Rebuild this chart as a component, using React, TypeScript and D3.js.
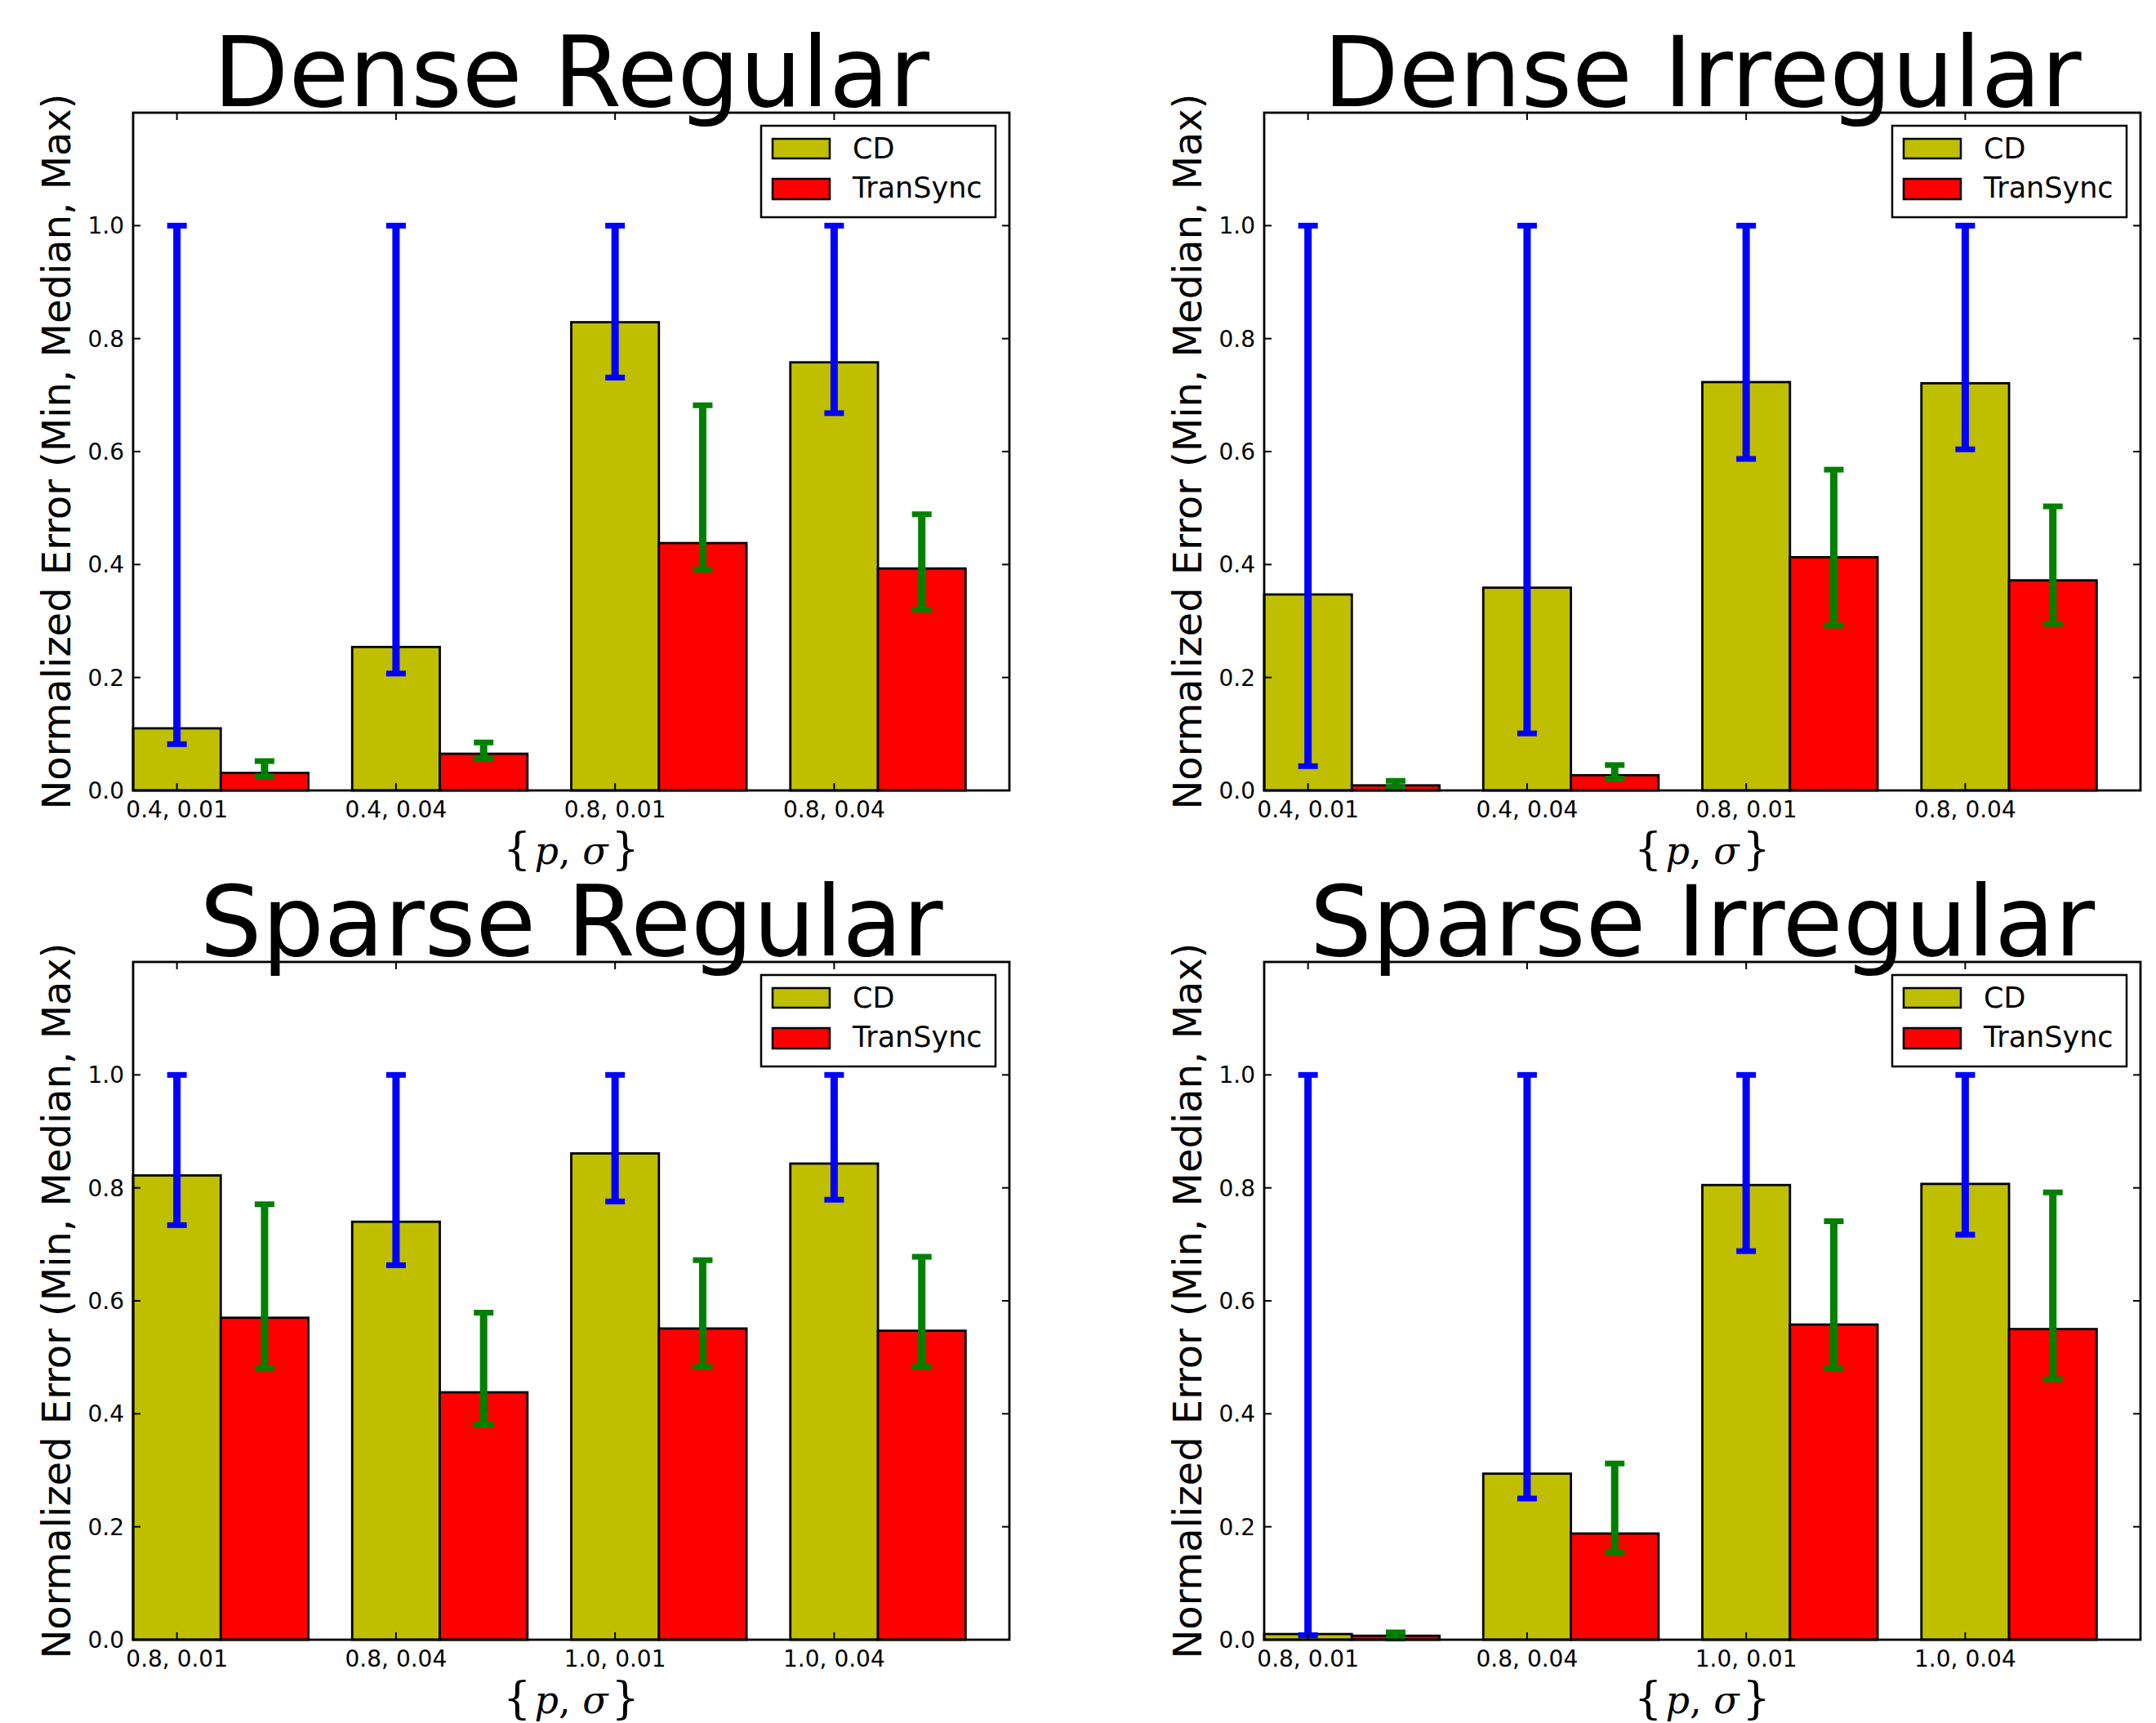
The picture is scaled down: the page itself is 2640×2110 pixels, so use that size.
import React from "react";
import * as d3 from "d3";

const denseCategories = ["0.4, 0.01", "0.4, 0.04", "0.8, 0.01", "0.8, 0.04"];
const sparseCategories = ["0.8, 0.01", "0.8, 0.04", "1.0, 0.01", "1.0, 0.04"];
const yTicks = [0.0, 0.2, 0.4, 0.6, 0.8, 1.0];
const seriesNames = ["CD", "TranSync"];

const denseRegularCD = [0.11, 0.254, 0.829, 0.758];
const denseRegularCDMin = [0.082, 0.207, 0.731, 0.668];
const denseRegularCDMax = [1.0, 1.0, 1.0, 1.0];
const denseRegularTS = [0.031, 0.065, 0.438, 0.393];
const denseRegularTSMin = [0.025, 0.056, 0.391, 0.32];
const denseRegularTSMax = [0.052, 0.085, 0.682, 0.489];

const denseIrregularCD = [0.347, 0.359, 0.723, 0.721];
const denseIrregularCDMin = [0.043, 0.101, 0.587, 0.604];
const denseIrregularCDMax = [1.0, 1.0, 1.0, 1.0];
const denseIrregularTS = [0.009, 0.027, 0.413, 0.372];
const denseIrregularTSMin = [0.005, 0.021, 0.292, 0.295];
const denseIrregularTSMax = [0.017, 0.045, 0.568, 0.503];

const sparseRegularCD = [0.822, 0.74, 0.861, 0.843];
const sparseRegularCDMin = [0.734, 0.663, 0.776, 0.779];
const sparseRegularCDMax = [1.0, 1.0, 1.0, 1.0];
const sparseRegularTS = [0.57, 0.438, 0.551, 0.547];
const sparseRegularTSMin = [0.481, 0.381, 0.483, 0.483];
const sparseRegularTSMax = [0.771, 0.579, 0.672, 0.678];

const sparseIrregularCD = [0.01, 0.294, 0.805, 0.807];
const sparseIrregularCDMin = [0.008, 0.25, 0.688, 0.717];
const sparseIrregularCDMax = [1.0, 1.0, 1.0, 1.0];
const sparseIrregularTS = [0.007, 0.188, 0.558, 0.55];
const sparseIrregularTSMin = [0.002, 0.155, 0.481, 0.461];
const sparseIrregularTSMax = [0.013, 0.312, 0.741, 0.792];

const panels = [
  { title: "Dense Regular", cats: denseCategories, cd: denseRegularCD, cdMin: denseRegularCDMin, cdMax: denseRegularCDMax, ts: denseRegularTS, tsMin: denseRegularTSMin, tsMax: denseRegularTSMax, left: 163, top: 138 },
  { title: "Dense Irregular", cats: denseCategories, cd: denseIrregularCD, cdMin: denseIrregularCDMin, cdMax: denseIrregularCDMax, ts: denseIrregularTS, tsMin: denseIrregularTSMin, tsMax: denseIrregularTSMax, left: 1548, top: 138 },
  { title: "Sparse Regular", cats: sparseCategories, cd: sparseRegularCD, cdMin: sparseRegularCDMin, cdMax: sparseRegularCDMax, ts: sparseRegularTS, tsMin: sparseRegularTSMin, tsMax: sparseRegularTSMax, left: 163, top: 1178 },
  { title: "Sparse Irregular", cats: sparseCategories, cd: sparseIrregularCD, cdMin: sparseIrregularCDMin, cdMax: sparseIrregularCDMax, ts: sparseIrregularTS, tsMin: sparseIrregularTSMin, tsMax: sparseIrregularTSMax, left: 1548, top: 1178 },
];

const W = 1073;
const H = 830;
const CD_COLOR = "#bfbf00";
const TS_COLOR = "#ff0000";
const BLUE = "#0000ff";
const GREEN = "#008000";
const FONT = "'DejaVu Sans', sans-serif";
const SERIF = "'DejaVu Serif', 'Liberation Serif', serif";
const BAR_W = 0.4;

function Panel({ p }: { p: any }) {
  const x = d3.scaleLinear().domain([-0.2, 3.8]).range([0, W]);
  const y = d3.scaleLinear().domain([0, 1.2]).range([H, 0]);
  const idx = d3.range(p.cats.length);
  const capHalf = 12;
  const errBar = (cx: number, lo: number, hi: number, color: string, key: string) => (
    <g key={key}>
      <line x1={cx} x2={cx} y1={y(lo)} y2={y(hi)} stroke={color} strokeWidth={9} />
      <line x1={cx - capHalf} x2={cx + capHalf} y1={y(lo)} y2={y(lo)} stroke={color} strokeWidth={7} />
      <line x1={cx - capHalf} x2={cx + capHalf} y1={y(hi)} y2={y(hi)} stroke={color} strokeWidth={7} />
    </g>
  );
  const cx = W / 2;
  const lbY = H + 90;
  return (
    <g transform={`translate(${p.left},${p.top})`}>
      <text x={W / 2} y={-8} textAnchor="middle" fontFamily={FONT} fontSize={120}>
        {p.title}
      </text>
      {idx.map((i) => (
        <rect key={"cd" + i} x={x(i - BAR_W / 2)} y={y(p.cd[i])} width={x(i + BAR_W / 2) - x(i - BAR_W / 2)} height={y(0) - y(p.cd[i])} fill={CD_COLOR} stroke="#000" strokeWidth={2.8} />
      ))}
      {idx.map((i) => (
        <rect key={"ts" + i} x={x(i + BAR_W / 2)} y={y(p.ts[i])} width={x(i + BAR_W * 1.5) - x(i + BAR_W / 2)} height={y(0) - y(p.ts[i])} fill={TS_COLOR} stroke="#000" strokeWidth={2.8} />
      ))}
      {idx.map((i) => errBar(x(i), p.cdMin[i], p.cdMax[i], BLUE, "ecd" + i))}
      {idx.map((i) => errBar(x(i + BAR_W), p.tsMin[i], p.tsMax[i], GREEN, "ets" + i))}
      {yTicks.map((t) => (
        <g key={"yt" + t}>
          <line x1={0} x2={9} y1={y(t)} y2={y(t)} stroke="#000" strokeWidth={2} />
          <line x1={W - 9} x2={W} y1={y(t)} y2={y(t)} stroke="#000" strokeWidth={2} />
          <text x={-11} y={y(t)} dy="0.36em" textAnchor="end" fontFamily={FONT} fontSize={28}>
            {t.toFixed(1)}
          </text>
        </g>
      ))}
      {idx.map((i) => (
        <g key={"xt" + i}>
          <line x1={x(i)} x2={x(i)} y1={H} y2={H - 9} stroke="#000" strokeWidth={2} />
          <line x1={x(i)} x2={x(i)} y1={0} y2={9} stroke="#000" strokeWidth={2} />
          <text x={x(i)} y={H + 33} textAnchor="middle" fontFamily={FONT} fontSize={28}>
            {p.cats[i]}
          </text>
        </g>
      ))}
      <rect x={0} y={0} width={W} height={H} fill="none" stroke="#000" strokeWidth={2.8} />
      <text transform={`translate(${-77},${H / 2}) rotate(-90)`} textAnchor="middle" fontFamily={FONT} fontSize={48}>
        Normalized Error (Min, Median, Max)
      </text>
      <text x={cx} y={lbY} textAnchor="middle" fontFamily={SERIF} fontSize={46}>
        <tspan fontSize={54} fontWeight={300}>{"{"}</tspan>
        <tspan fontStyle="italic" dx={4}>p</tspan>
        <tspan>, </tspan>
        <tspan fontStyle="italic">σ</tspan>
        <tspan fontSize={54} fontWeight={300} dx={4}>{"}"}</tspan>
      </text>
      <g>
        <rect x={769} y={16} width={287} height={112} fill="#fff" stroke="#000" strokeWidth={2.5} />
        <rect x={783} y={32} width={70} height={24} fill={CD_COLOR} stroke="#000" strokeWidth={2.5} />
        <rect x={783} y={81} width={70} height={25} fill={TS_COLOR} stroke="#000" strokeWidth={2.5} />
        <text x={881} y={56} fontFamily={FONT} fontSize={35}>{seriesNames[0]}</text>
        <text x={881} y={104} fontFamily={FONT} fontSize={35}>{seriesNames[1]}</text>
      </g>
    </g>
  );
}

export default function App() {
  return (
    <svg width={2640} height={2110} style={{ position: "absolute", left: 0, top: 0, background: "#fff" }}>
      <rect width={2640} height={2110} fill="#fff" />
      {panels.map((p) => (
        <Panel key={p.title} p={p} />
      ))}
    </svg>
  );
}
